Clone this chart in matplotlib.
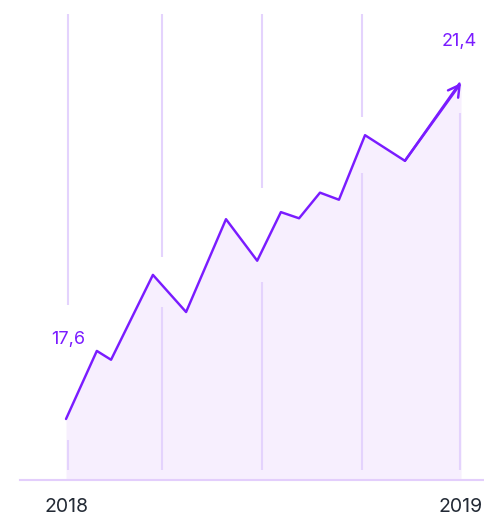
import matplotlib
matplotlib.use("Agg")
import matplotlib.pyplot as plt

plt.rcParams['font.family'] = ['Inter', 'DejaVu Sans']

# данные: доля года (2018 -> 2019) и значения
t_vals = [0.0, 0.078, 0.114, 0.220, 0.304, 0.405, 0.484, 0.544, 0.590, 0.643, 0.691, 0.757, 0.858, 1.0]
values = [17.6, 18.37, 18.27, 19.23, 18.81, 19.86, 19.39, 19.94, 19.87, 20.16, 20.08, 20.81, 20.52, 21.4]
tick_pos = [0, 1]
tick_labels = ["2018", "2019"]
grid_pos = [0.005, 0.243, 0.496, 0.749, 0.9975]
# куски вертикальных линий (от, до) с разрывами у кривой
grid_segs = [
    [(17.02, 17.36), (18.89, 22.18)],
    [(17.02, 18.87), (19.43, 22.18)],
    [(17.02, 19.15), (20.21, 22.18)],
    [(17.02, 20.38), (21.02, 22.18)],
    [(17.02, 21.06)],
]

LINE = "#7A1CFF"
FILL = "#F7EFFE"
GRID = "#E4D3FD"
TEXT = "#232A35"

fig = plt.figure(figsize=(4.84, 5.18), dpi=100)
ax = fig.add_axes([20 / 484, 38 / 518, 464 / 484, 480 / 518])
ymin = 16.91
ax.set_xlim(-0.1165, 1.0582)
ax.set_ylim(ymin, 22.339)

for x, segs in zip(grid_pos, grid_segs):
    for lo, hi in segs:
        ax.plot([x, x], [lo, hi], color=GRID, lw=1.5, solid_capstyle='butt', zorder=1)

ax.fill_between(t_vals, values, ymin, color=FILL, lw=0, zorder=0)
ax.plot(t_vals[:-1] + [t_vals[-1] - 0.004], values[:-1] + [values[-1] - 0.006],
        color=LINE, lw=1.75, solid_joinstyle='round', solid_capstyle='round', zorder=3)
ax.annotate("", xy=(t_vals[-1], values[-1]), xytext=(t_vals[-2], values[-2]),
            arrowprops=dict(arrowstyle="->,head_length=0.8,head_width=0.45", color=LINE, lw=1.75,
                            shrinkA=0, shrinkB=0), zorder=4)

def fmt(v):
    return f"{v:.1f}".replace(".", ",")

ax.annotate(fmt(values[0]), xy=(t_vals[0], values[0]), xytext=(2, 79), textcoords="offset pixels",
            ha="center", va="center", color=LINE, fontsize=13)
ax.annotate(fmt(values[-1]), xy=(t_vals[-1], values[-1]), xytext=(-2, 42), textcoords="offset pixels",
            ha="center", va="center", color=LINE, fontsize=13)

for s in ["top", "right", "left"]:
    ax.spines[s].set_visible(False)
ax.spines["bottom"].set_color("#E3CEFC")
ax.spines["bottom"].set_linewidth(1.5)
ax.set_yticks([])
ax.set_xticks(tick_pos)
ax.set_xticklabels(tick_labels, color=TEXT, fontsize=14)
ax.tick_params(axis="x", length=0, pad=13)
ax.patch.set_alpha(0)

fig.savefig("out.png", dpi=100)
